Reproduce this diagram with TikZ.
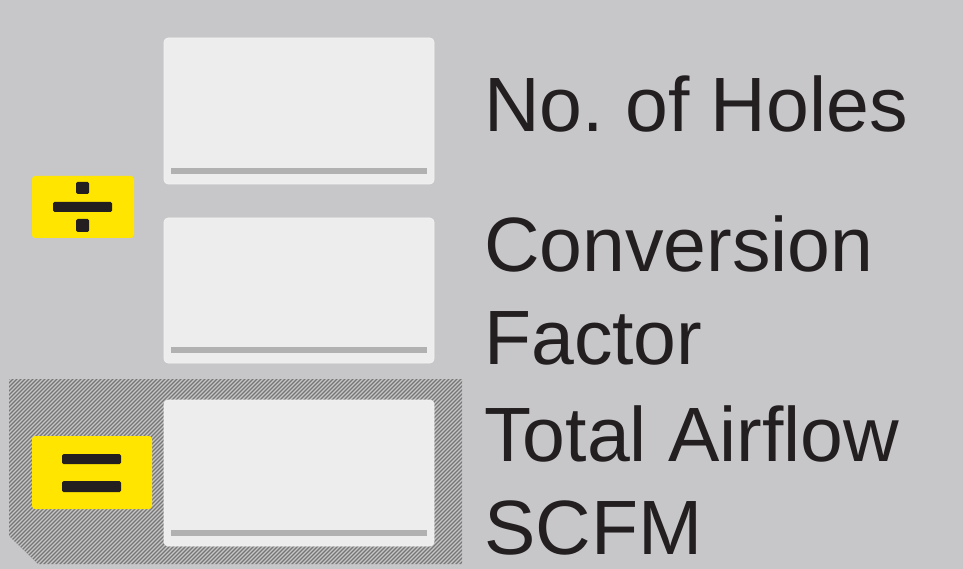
\documentclass[tikz,border=0pt]{standalone}
\usepackage{fontspec}
\setmainfont{Liberation Sans}
\definecolor{bg}{HTML}{C7C7C9}
\definecolor{boxfill}{HTML}{EDEDED}
\definecolor{barcol}{HTML}{B1B1B1}
\definecolor{hatchdark}{HTML}{767676}
\definecolor{hatchlight}{HTML}{C6C6C6}
\definecolor{yel}{HTML}{FFE500}
\definecolor{ink}{HTML}{231F20}
\tikzset{
  inbox/.style={fill=boxfill, draw=boxfill!60!white, line width=0.6pt, rounded corners=4pt, minimum width=270pt, minimum height=146pt, inner sep=0pt},
  bar/.style={fill=barcol, draw=none},
  yelbox/.style={fill=yel, draw=none, rounded corners=3pt, inner sep=0pt},
  sym/.style={fill=ink, draw=none, rounded corners=1.5pt},
  lbl/.style={anchor=base west, inner sep=0pt, font=\fontsize{77}{93}\selectfont, text=ink}
}
\begin{document}
\frenchspacing
\begin{tikzpicture}[x=1pt,y=-1pt]
\useasboundingbox (0,0) rectangle (963,569);
\fill[bg] (0,0) rectangle (963,569);
% hatched region
\begin{scope}
  \clip (9,379) -- (462,379) -- (462,564) -- (38,564) -- (9,536) -- cycle;
  \fill[hatchlight] (0,370) rectangle (470,569);
  \foreach \c in {384,388,...,1032} {
    \draw[hatchdark, line width=1.2pt] (\c-600,600) -- (\c,0);
  }
\end{scope}
% white boxes
\node[inbox] (b1) at (299,111) {};
\node[inbox, minimum height=145pt] (b2) at (299,290.5) {};
\node[inbox] (b3) at (299,473) {};
\foreach \b in {b1,b2,b3} {
  \fill[bar] ([xshift=7pt,yshift=10pt]\b.south west) rectangle ([xshift=-7pt,yshift=16pt]\b.south east);
}
% divide symbol
\node[yelbox, minimum width=102pt, minimum height=62pt] (div) at (83,207) {};
\fill[sym] (53,202) rectangle (112,212);
\fill[sym] (76,182) rectangle (89,194);
\fill[sym] (76,219) rectangle (89,232);
% equals symbol
\node[yelbox, minimum width=120pt, minimum height=73pt] (eq) at (92,472.5) {};
\fill[sym] (62,454) rectangle (121,464);
\fill[sym] (62,481) rectangle (121,492);
% labels
\node[lbl] (t1) at (484,132) {No. of Holes};
\node[lbl] (t2) at (484,271) {Conversion};
\node[lbl] (t3) at (484,364) {Factor};
\node[lbl] (t4) at (484,461) {Total Airflow};
\node[lbl] (t5) at (484,554) {SCFM};
\end{tikzpicture}
\end{document}
